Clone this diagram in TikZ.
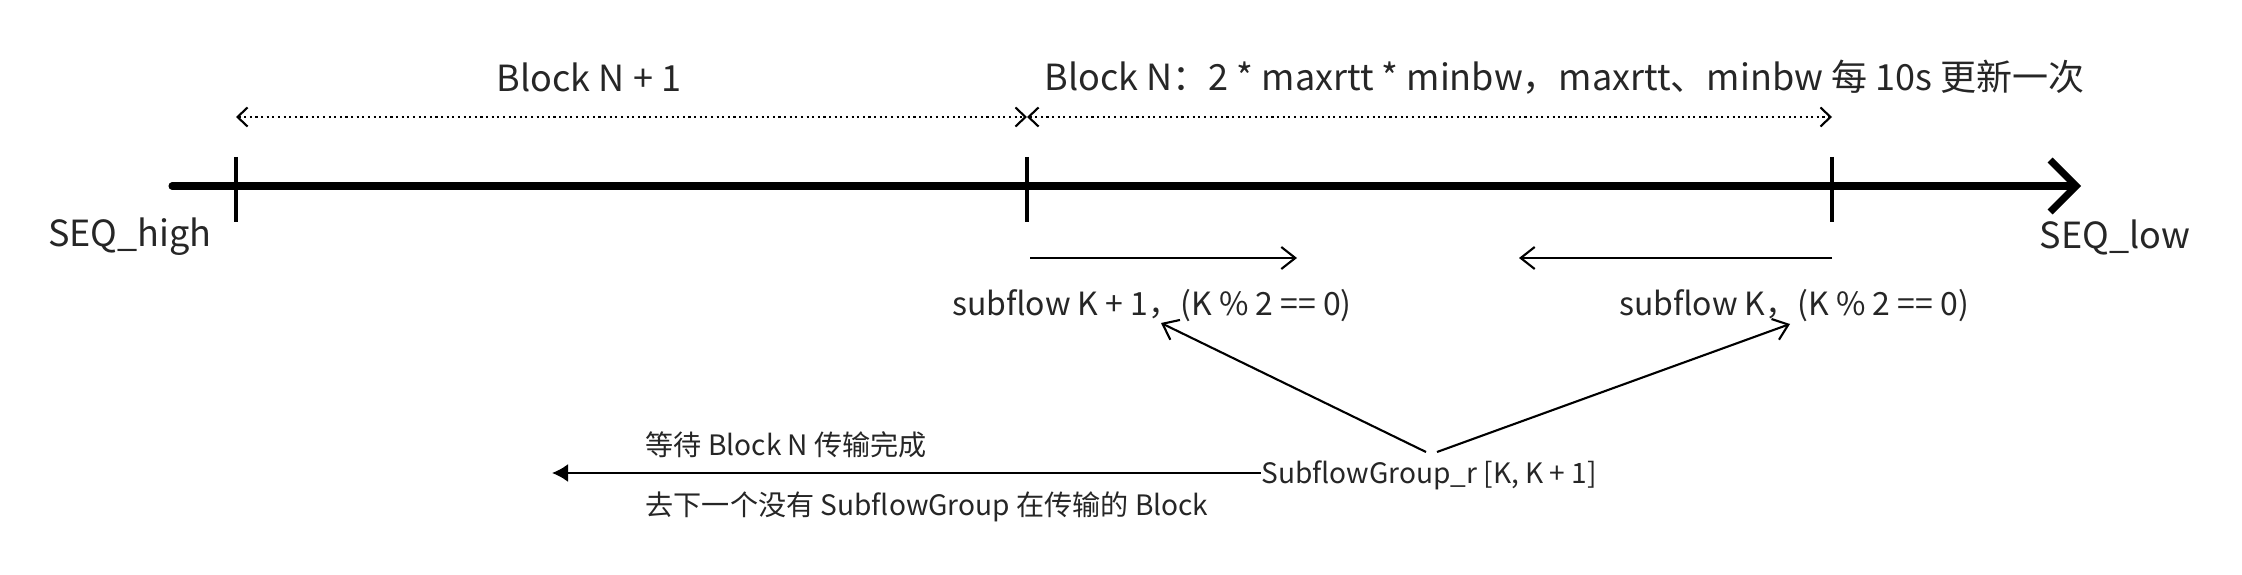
\documentclass[tikz,border=0pt]{standalone}
\usepackage{fontspec}
\setmainfont{Noto Sans CJK SC}
\usetikzlibrary{arrows.meta,calc}

\begin{document}
\begin{tikzpicture}[every node/.style={inner sep=0pt, text=black!85},
    biglabel/.style={font=\fontsize{10.25}{12}\selectfont},
    midlabel/.style={font=\fontsize{9.1}{11}\selectfont},
    smalllabel/.style={font=\fontsize{8}{10}\selectfont},
    tickline/.style={line width=0.9pt},
    spanarrow/.style={densely dotted, line width=0.6pt, {Straight Barb[length=1mm,width=1.9mm]}-{Straight Barb[length=1mm,width=1.9mm]}},
    dirarrow/.style={line width=0.6pt, -{Straight Barb[length=1.4mm,width=2.2mm]}}]

        \useasboundingbox (0,0) rectangle (22.42,5.74);
        \def\lineY{3.88}  % height of the sequence axis

        % The sequence axis with its three block boundaries
        \coordinate (axisstart) at (1.72,\lineY);
        \coordinate (axisend) at (20.81,\lineY);
        \coordinate (b0) at (2.36,\lineY);
        \coordinate (b1) at (10.27,\lineY);
        \coordinate (b2) at (18.32,\lineY);
        \draw[line width=2pt, line cap=round, -{Straight Barb[length=2.6mm,width=5.2mm]}] (axisstart) -- (axisend);
        \foreach \b in {b0,b1,b2} {
            \draw[tickline] ($(\b)+(0,0.29)$) -- ($(\b)+(0,-0.36)$);
        }

        \node[biglabel] (seqhigh) at (1.30,3.37) {SEQ\_high};
        \node[biglabel] (seqlow) at (21.15,3.37) {SEQ\_low};

        % Block spans above the axis
        \coordinate (s0) at (2.36,4.57);
        \coordinate (s1) at (10.27,4.57);
        \coordinate (s2) at (18.32,4.57);
        \draw[spanarrow] (s0) -- (s1);
        \draw[spanarrow] (s1) -- (s2);
        \node[biglabel] (blocknext) at (5.89,4.97) {Block N + 1};
        \node[biglabel, anchor=west] (blockcur) at (10.44,4.97) {Block N：2 * maxrtt * minbw，maxrtt、minbw 每 10s 更新一次};

        % Subflow directions inside Block N
        \coordinate (fa) at (10.30,3.16);
        \coordinate (fb) at (12.97,3.16);
        \coordinate (fc) at (18.32,3.16);
        \coordinate (fd) at (15.19,3.16);
        \draw[dirarrow] (fa) -- (fb);
        \draw[dirarrow] (fc) -- (fd);
        \node[midlabel] (subnext) at (11.52,2.68) {subflow K + 1，(K \% 2 == 0)};
        \node[midlabel] (subcur) at (17.94,2.68) {subflow K，(K \% 2 == 0)};

        % The subflow group and where it goes next
        \node[smalllabel] (group) at (14.29,0.99) {SubflowGroup\_r [K, K + 1]};
        \coordinate (gl) at (14.26,1.22);
        \coordinate (gr) at (14.37,1.22);
        \coordinate (tl) at (11.61,2.51);
        \coordinate (tr) at (17.90,2.50);
        \draw[dirarrow] (gl) -- (tl);
        \draw[dirarrow] (gr) -- (tr);
        \coordinate (waitend) at (5.52,1.01);
        \draw[line width=0.6pt, -{Latex[length=1.6mm,width=1.8mm]}] (group.west |- waitend) -- (waitend);
        \node[smalllabel, anchor=west] (wait) at (6.45,1.29) {等待 Block N 传输完成};
        \node[smalllabel, anchor=west] (gonext) at (6.45,0.67) {去下一个没有 SubflowGroup 在传输的 Block};

    \end{tikzpicture}
\end{document}
